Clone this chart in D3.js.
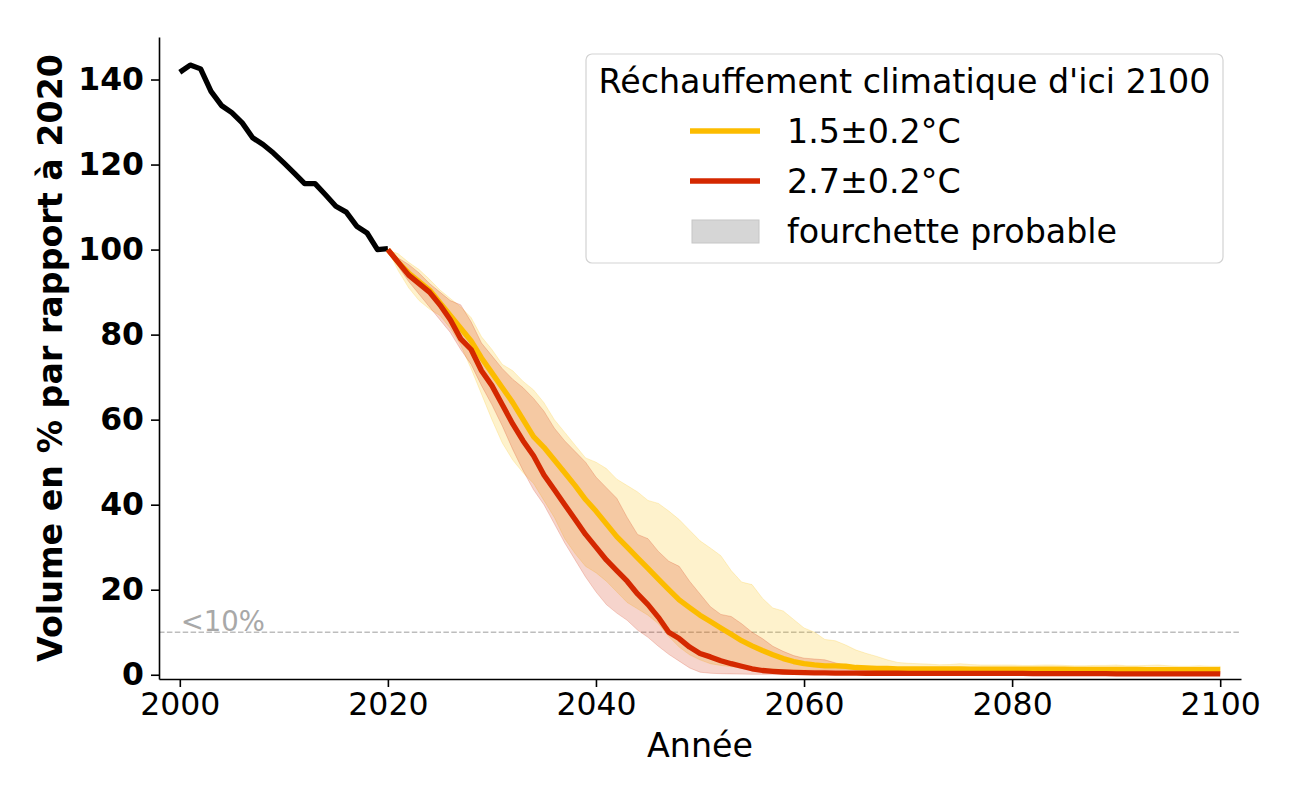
<!DOCTYPE html>
<html>
<head>
<meta charset="utf-8">
<script src="https://cdn.jsdelivr.net/npm/d3@7"></script>
<style>
  html, body { margin: 0; padding: 0; background: #ffffff; }
  svg { display: block; }
  text { font-family: "DejaVu Sans", sans-serif; }
</style>
</head>
<body>
<svg id="chart" width="1300" height="800"></svg>
<script>
// ---------------- data ----------------
const histYears = d3.range(2000, 2021);
const histValues = [141.7, 143.4, 142.5, 137.2, 133.9, 132.2, 129.8, 126.3, 124.7, 122.7,
                    120.4, 118, 115.5, 115.5, 112.9, 110.2, 108.8, 105.5, 103.9, 100, 100.2];

const projYears = d3.range(2020, 2101);

// 1.5±0.2°C scenario
const med15 = [100, 97, 94.5, 92.5, 90.5, 87.5, 84.5, 81.5, 78.5, 74.5,
  71, 67.5, 64, 60, 56, 53.5, 50.5, 47.5, 44.5, 41.2,
  38.5, 35.5, 32.5, 30, 27.5, 25, 22.5, 20, 17.6, 15.8,
  14, 12.5, 11, 9.5, 8, 6.8, 5.7, 4.7, 3.8, 3.1,
  2.6, 2.3, 2.1, 2.1, 2.0, 1.7, 1.6, 1.5, 1.5, 1.4,
  1.4, 1.4, 1.4, 1.35, 1.35, 1.35, 1.3, 1.3, 1.3, 1.3,
  1.3, 1.3, 1.3, 1.3, 1.3, 1.3, 1.25, 1.25, 1.25, 1.25,
  1.25, 1.25, 1.25, 1.2, 1.2, 1.2, 1.2, 1.2, 1.2, 1.2,
  1.2];
const low15 = [100, 95, 91, 88, 86, 84.5, 81.5, 77.5, 72, 66,
  60, 54.5, 50.5, 47.5, 45, 41, 37, 32, 28.5, 25.5,
  24, 22, 19.5, 17, 15.5, 14, 12, 9, 6.5, 4.7,
  3.5, 2.6, 2.2, 1.9, 1.6, 1.5, 1.4, 1.3, 1.2, 1.2,
  1.1, 1.1, 1.1, 1.1, 1.1, 1.1, 1.1, 1.1, 1.1, 1.1,
  1.0, 1.0, 1.0, 1.0, 1.0, 1.0, 1.0, 1.0, 1.0, 1.0,
  1.0, 1.0, 1.0, 1.0, 1.0, 1.0, 1.0, 1.0, 1.0, 1.0,
  1.0, 1.0, 1.0, 1.0, 1.0, 1.0, 1.0, 1.0, 1.0, 1.0,
  1.0];
const high15 = [100, 99, 97, 95.3, 93, 90.5, 88.5, 86.5, 84, 79.5,
  76.5, 73, 71.5, 69, 67, 64, 60, 57, 54, 51,
  50, 48.5, 46, 44.5, 43, 41, 40.3, 38.5, 36.5, 34,
  31.5, 29.8, 28, 24.5, 21.8, 21.2, 18, 15.7, 15, 13,
  11, 10, 8.3, 8, 7, 5.8, 5, 4.3, 3.5, 2.9,
  2.7, 2.6, 2.5, 2.35, 2.4, 2.6, 2.4, 2.3, 2.3, 2.3,
  2.3, 2.2, 2.2, 2.3, 2.3, 2.2, 2.1, 2.1, 2.2, 2.2,
  2.3, 2.1, 2.1, 2.2, 2.3, 2.1, 2.0, 2.0, 2.1, 2.0,
  2.0];

// 2.7±0.2°C scenario
const med27 = [100, 97, 94, 92, 90, 87, 83.5, 79, 76.5, 71.5,
  68, 63.5, 59, 55, 51.5, 47, 43.5, 40, 36.5, 33,
  30, 27, 24.5, 22, 19, 16.5, 13.5, 10, 8.5, 6.5,
  5, 4.2, 3.3, 2.6, 2.0, 1.4, 1.0, 0.8, 0.65, 0.55,
  0.5, 0.45, 0.45, 0.4, 0.4, 0.4, 0.35, 0.35, 0.35, 0.35,
  0.3, 0.3, 0.3, 0.3, 0.3, 0.3, 0.3, 0.3, 0.3, 0.3,
  0.3, 0.3, 0.25, 0.25, 0.25, 0.25, 0.25, 0.25, 0.25, 0.25,
  0.2, 0.2, 0.2, 0.2, 0.2, 0.2, 0.2, 0.2, 0.2, 0.2,
  0.2];
const low27 = [100, 96, 92.5, 89.5, 86.5, 83.5, 80.5, 76.5, 73, 68,
  63.5, 58.5, 53, 48, 43.5, 40, 35.5, 31, 27, 23,
  19.5, 16.5, 14.5, 12.8, 10.5, 8.8, 6.7, 4.8, 3.2, 1.6,
  0.6, 0.35, 0.25, 0.2, 0.15, 0.1, 0.1, 0.1, 0.1, 0.1,
  0.1, 0.1, 0.1, 0.1, 0.1, 0.1, 0.1, 0.1, 0.1, 0.1,
  0.1, 0.1, 0.1, 0.1, 0.1, 0.1, 0.1, 0.1, 0.1, 0.1,
  0.1, 0.1, 0.1, 0.1, 0.1, 0.1, 0.1, 0.1, 0.1, 0.1,
  0.1, 0.1, 0.1, 0.1, 0.1, 0.1, 0.1, 0.1, 0.1, 0.1,
  0.1];
const high27 = [100, 98, 96.5, 94.5, 92, 90, 88, 87, 83, 78,
  75, 72, 69.5, 67.5, 65, 62, 58, 55, 52.5, 50,
  46.5, 44, 41.5, 37, 33, 32, 29, 26.7, 25.5, 22,
  19, 16, 14.2, 13.7, 12, 10, 8.5, 6.7, 5.5, 4.5,
  3.9, 3.7, 3.5, 2.8, 2.3, 2.0, 1.8, 1.6, 1.4, 1.3,
  1.2, 1.1, 1.1, 1.0, 1.0, 1.0, 1.0, 0.9, 0.9, 0.9,
  0.9, 0.9, 0.9, 0.9, 0.9, 0.9, 0.9, 0.9, 0.9, 0.9,
  0.9, 0.9, 0.9, 0.85, 0.85, 0.85, 0.8, 0.8, 0.8, 0.8,
  0.8];

const xTicks = [2000, 2020, 2040, 2060, 2080, 2100];
const yTicks = [0, 20, 40, 60, 80, 100, 120, 140];
const thresholdValue = 10;
const thresholdLabel = "<10%";
const legendTitle = "Réchauffement climatique d'ici 2100";
const seriesLabels = ["1.5±0.2°C", "2.7±0.2°C"];
const bandLabel = "fourchette probable";
const xLabel = "Année";
const yLabel = "Volume en % par rapport à 2020";

// ---------------- styles ----------------
const colYellow = "#fcbc00";
const colRed = "#d42800";
const lineW = 5.3;

// ---------------- drawing ----------------
const svg = d3.select("#chart");
const x = d3.scaleLinear().domain([1998, 2102]).range([159, 1241]);
const y = d3.scaleLinear().domain([-1, 150]).range([679, 37]);

const proj = (arr) => projYears.map((yr, i) => ({ yr, v: arr[i] }));
const band = (lo, hi) => projYears.map((yr, i) => ({ yr, lo: lo[i], hi: hi[i] }));

const area = d3.area().x(d => x(d.yr)).y0(d => y(d.lo)).y1(d => y(d.hi));
const line = d3.line().x(d => x(d.yr)).y(d => y(d.v));

// threshold line
svg.append("line")
  .attr("x1", x(1998)).attr("x2", x(2102))
  .attr("y1", y(thresholdValue)).attr("y2", y(thresholdValue))
  .attr("stroke", "#bdbdbd").attr("stroke-width", 1.3)
  .attr("stroke-dasharray", "5.5,2.4");
svg.append("text")
  .attr("x", x(2000) + 1).attr("y", y(thresholdValue) - 1.5)
  .attr("font-size", 27.5).attr("fill", "#a8a8a8")
  .text(thresholdLabel);

// bands
[[low15, high15, colYellow], [low27, high27, colRed]].forEach(([lo, hi, c]) => {
  svg.append("path")
    .datum(band(lo, hi))
    .attr("d", area)
    .attr("fill", c).attr("fill-opacity", 0.2)
    .attr("stroke", c).attr("stroke-opacity", 0.2).attr("stroke-width", 1);
});

// historical line
svg.append("path")
  .datum(histYears.map((yr, i) => ({ yr, v: histValues[i] })))
  .attr("d", line)
  .attr("fill", "none").attr("stroke", "#000").attr("stroke-width", lineW)
  .attr("stroke-linejoin", "round").attr("stroke-linecap", "butt");

// scenario lines
[[med15, colYellow], [med27, colRed]].forEach(([arr, c]) => {
  svg.append("path")
    .datum(proj(arr))
    .attr("d", line)
    .attr("fill", "none").attr("stroke", c).attr("stroke-width", lineW)
    .attr("stroke-linejoin", "round").attr("stroke-linecap", "butt");
});

// axes
const gx = svg.append("g").attr("transform", `translate(0,${y(-1)})`)
  .call(d3.axisBottom(x).tickValues(xTicks).tickFormat(d3.format("d"))
    .tickSize(8).tickSizeOuter(0).tickPadding(6));
gx.selectAll("text").attr("font-size", 31.5).attr("font-family", "DejaVu Sans").attr("fill", "#000");

const gy = svg.append("g").attr("transform", `translate(${x(1998)},0)`)
  .call(d3.axisLeft(y).tickValues(yTicks).tickFormat(d3.format("d"))
    .tickSize(8).tickSizeOuter(0).tickPadding(7));
gy.selectAll("text").attr("font-size", 31.5).attr("font-weight", "bold")
  .attr("font-family", "DejaVu Sans").attr("fill", "#000");

[gx, gy].forEach(g => {
  g.select(".domain").attr("stroke", "#000").attr("stroke-width", 1.6);
  g.selectAll(".tick line").attr("stroke", "#000").attr("stroke-width", 1.6);
});

// axis labels
svg.append("text")
  .attr("x", (x(1998) + x(2102)) / 2).attr("y", 757)
  .attr("text-anchor", "middle").attr("font-size", 33.3)
  .text(xLabel);
svg.append("text")
  .attr("transform", `translate(62,${(y(-1) + y(150)) / 2}) rotate(-90)`)
  .attr("text-anchor", "middle").attr("font-size", 33.3).attr("font-weight", "bold")
  .text(yLabel);

// legend
const lg = svg.append("g");
lg.append("rect")
  .attr("x", 586).attr("y", 54).attr("width", 637).attr("height", 209)
  .attr("rx", 6).attr("fill", "#fff").attr("fill-opacity", 0.85)
  .attr("stroke", "#d3d3d3").attr("stroke-width", 1.2);
lg.append("text")
  .attr("x", 904.5).attr("y", 93).attr("text-anchor", "middle")
  .attr("font-size", 33.3).text(legendTitle);
[[colYellow, 131, seriesLabels[0]], [colRed, 181, seriesLabels[1]]].forEach(([c, cy, t]) => {
  lg.append("line").attr("x1", 690).attr("x2", 760).attr("y1", cy).attr("y2", cy)
    .attr("stroke", c).attr("stroke-width", lineW);
  lg.append("text").attr("x", 787).attr("y", cy + 12).attr("font-size", 33.3).text(t);
});
lg.append("rect").attr("x", 692).attr("y", 220).attr("width", 67).attr("height", 23)
  .attr("fill", "#d6d6d6").attr("stroke", "#c6c6c6").attr("stroke-width", 1);
lg.append("text").attr("x", 787).attr("y", 243).attr("font-size", 33.3).text(bandLabel);
</script>
</body>
</html>
